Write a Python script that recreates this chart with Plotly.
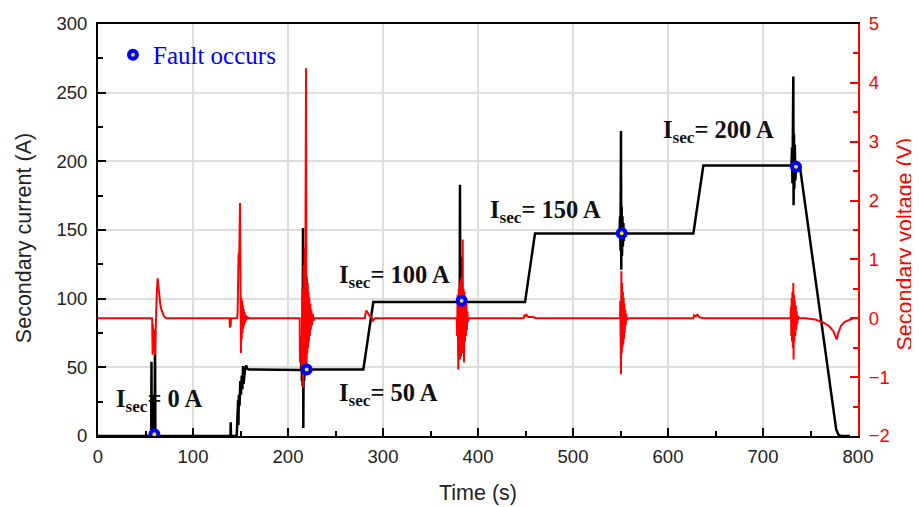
import plotly.graph_objects as go

# ---------------- data ----------------
# Secondary current (A) vs time (s)
t_current = [0, 56.0, 56.3, 56.6, 57.2, 57.6, 59.6, 60.0, 60.4, 139.4, 139.7, 140.0,
             146.0, 147.0, 147.5, 147.8, 148.3, 149.0, 149.8, 150.5, 151.3, 152.0, 152.7,
             153.2, 154.0, 154.7, 156.0, 157.0, 158.5, 213.5, 213.8, 214.2, 214.4, 214.6,
             215.0, 215.4, 215.8, 216.1, 216.5, 217.0, 217.5, 218.0, 218.5, 219.0, 219.7,
             220.5, 221.5, 222.5, 223.5, 225.0, 279.3, 289.8, 380.5, 380.8, 381.0, 381.3,
             381.6, 382.0, 382.3, 382.6, 383.0, 383.5, 384.0, 384.5, 385.5, 386.5, 449.5,
             460.0, 549.0, 549.5, 550.0, 550.5, 550.8, 551.2, 551.6, 552.0, 552.5, 553.0,
             553.5, 554.0, 555.0, 556.0, 626.7, 637.2, 730.0, 730.5, 731.0, 731.5, 731.9,
             732.2, 732.6, 733.0, 733.5, 734.0, 734.7, 735.5, 736.5, 737.5, 738.9, 777.0,
             779.3, 782.0, 791.6]
i_current = [0, 0, 54, 2, 30, 0, 0, 76, 0, 0, 10, 0,
             0, 14, 26, 8, 30, 22, 40, 30, 44, 34, 51,
             38, 46, 48, 51.5, 49, 48.5, 48.5, 48, 62, 70, 40,
             60, 36, 151.5, 5.8, 56, 40, 58, 44, 54, 46, 48.5,
             52, 45, 50, 47.5, 48.5, 48.5, 97.5, 97.5, 110, 183, 90,
             62, 112, 130.6, 88, 108, 92, 104, 95, 100, 97.5, 97.5,
             147.5, 147.5, 160, 135, 222, 121, 167, 131, 160, 138, 155,
             142, 151, 146, 147.5, 147.5, 197, 197, 210, 184, 225, 261.7,
             168, 220, 180, 212, 186, 196, 200, 193, 197, 196, 5,
             1, 0, 0]

# Secondary voltage (V) vs time (s)
t_voltage = [0, 57.0, 57.2, 57.5, 57.8, 58.2, 58.6, 59.0, 59.5, 60.0, 60.5, 61.2, 61.8,
             62.8, 63.5, 64.5, 65.5, 66.5, 68.0, 69.5, 71.0, 72.5,
             138.5, 138.8, 139.3, 139.6, 140.0, 146.5, 147.0, 148.0, 148.5, 149.0, 149.5,
             149.8, 150.2, 150.5, 150.9, 151.3, 151.7, 152.1, 152.5, 152.9, 153.3, 153.8,
             154.3, 154.8, 155.4, 156.0, 157.0, 158.0,
             212.3, 212.6, 213.0, 213.5, 214.0, 214.5, 215.0, 215.5, 216.0, 216.5, 217.0,
             217.5, 218.0, 218.5, 219.0, 219.3, 219.6, 220.0, 220.4, 220.8, 221.2, 221.6,
             222.0, 222.5, 223.0, 223.5, 224.0, 224.6, 225.2, 226.0, 227.0, 228.0,
             281.0, 281.5, 282.5, 284.0, 286.0, 288.0, 289.5, 291.6,
             377.6, 378.0, 378.5, 379.0, 379.3, 379.7, 380.2, 380.7, 381.2, 381.7, 382.2,
             382.7, 383.2, 383.9, 384.3, 384.8, 385.3, 385.8, 386.3, 386.8, 387.3, 387.8,
             388.3, 388.8, 389.4, 390.0,
             448.0, 449.0, 450.0, 451.0, 453.0, 458.0, 461.0,
             549.5, 549.8, 550.1, 550.5, 550.9, 551.3, 551.7, 552.1, 552.5, 552.9, 553.3,
             553.7, 554.1, 554.5, 555.0, 555.5, 556.0, 557.0, 558.0,
             626.7, 627.5, 629.0, 631.0, 633.0, 637.0,
             729.0, 729.4, 729.8, 730.2, 730.6, 731.0, 731.4, 731.9, 732.2, 732.6, 733.0,
             733.5, 734.0, 734.5, 735.0, 735.5, 736.0, 737.0, 738.0,
             745.0, 755.0, 763.5, 770.0, 774.0, 776.5, 777.6, 779.0, 782.0, 786.0, 790.0,
             795.0, 800.0]
v_voltage = [0, 0, -0.3, -0.62, -0.1, -0.55, -0.2, -0.5, -0.3, -0.62, -0.3, 0, 0.4,
             0.68, 0.55, 0.38, 0.25, 0.16, 0.08, 0.03, 0.01, 0,
             0, -0.16, -0.05, -0.14, 0, 0, 0.1, 1.1, 0.9, 1.4, 1.96,
             1.2, -0.3, -0.59, 0.35, -0.35, 0.3, -0.25, 0.22, -0.18, 0.16, -0.12,
             0.1, -0.08, 0.06, -0.04, 0.03, 0,
             0, -0.75, -0.3, -0.7, -0.4, -0.9, 0.5, -0.8, -1.18, 0.9, -0.6,
             1.2, -0.9, 2.0, 4.25, 0.3, -0.8, 0.7, -0.6, 0.6, -0.5, 0.45,
             -0.4, 0.35, -0.3, 0.25, -0.2, 0.15, -0.12, 0.08, -0.04, 0,
             0, 0.08, 0.13, 0.09, 0.04, 0.02, -0.04, 0,
             0, -0.3, 0.4, -0.5, -0.87, 0.5, -0.6, 0.6, -0.7, 0.66, -0.65,
             0.7, -0.6, 1.34, -0.5, 0.5, -0.75, 0.45, -0.4, 0.35, -0.3, 0.25,
             -0.2, 0.12, -0.06, 0,
             0, 0.06, 0.03, 0.06, 0.02, 0.02, 0,
             0, 0.3, -0.5, -0.95, 0.8, -0.6, 0.6, -0.5, 0.45, -0.45, 0.35,
             -0.35, 0.25, -0.25, 0.15, -0.12, 0.07, -0.03, 0,
             0, 0.05, 0.03, 0.06, 0.02, 0,
             0, 0.2, -0.3, 0.35, -0.4, 0.45, -0.5, 0.6, -0.7, 0.4, -0.4,
             0.3, -0.3, 0.22, -0.2, 0.12, -0.1, 0.04, 0,
             0, -0.02, -0.07, -0.14, -0.22, -0.31, -0.36, -0.26, -0.13, -0.06, -0.03,
             0, 0]

# Fault instants
t_fault = [59.3, 219.7, 382.8, 551.3, 734.7]
i_fault = [1.2, 48.5, 98.5, 147.6, 196]

# Level labels
label_text = ["0 A", "50 A", "100 A", "150 A", "200 A"]
label_t = [16.8, 252, 252, 410.9, 592.6]
label_i = [25.5, 30, 116.5, 163.4, 222]

x_ticks = [0, 100, 200, 300, 400, 500, 600, 700, 800]
y_ticks = [0, 50, 100, 150, 200, 250, 300]
y2_ticks = [-2, -1, 0, 1, 2, 3, 4, 5]

# ---------------- figure ----------------
SANS = "Liberation Sans, Arial, sans-serif"
SERIF = "Liberation Serif, Times New Roman, serif"

fig = go.Figure()
fig.add_trace(go.Scatter(x=t_current, y=i_current, mode="lines",
                         line=dict(color="#000000", width=2.5),
                         showlegend=False, yaxis="y"))
fig.add_trace(go.Scatter(x=t_voltage, y=v_voltage, mode="lines",
                         line=dict(color="#ff0000", width=2),
                         showlegend=False, yaxis="y2"))
fig.add_trace(go.Scatter(x=t_fault, y=i_fault, mode="markers", name="Fault occurs",
                         marker=dict(symbol="circle", size=8, color="#e8e000",
                                     line=dict(color="#0000ff", width=4)),
                         yaxis="y3"))

for txt, tx, ty in zip(label_text, label_t, label_i):
    fig.add_annotation(x=tx, y=ty, xref="x", yref="y", xanchor="left", yanchor="middle",
                       text="<b>I<sub>sec</sub>= " + txt + "</b>", showarrow=False,
                       font=dict(family=SERIF, size=24.5, color="#111111"))

# Y-axis titles (placed slightly below the axis middle, as in the source figure)
fig.add_annotation(x=-0.098, y=0.479, xref="paper", yref="paper", xanchor="center",
                   yanchor="middle", textangle=-90, showarrow=False,
                   text="Secondary current (A)",
                   font=dict(family=SANS, size=21.5, color="#222222"))
fig.add_annotation(x=1.0625, y=0.466, xref="paper", yref="paper", xanchor="center",
                   yanchor="middle", textangle=-90, showarrow=False,
                   text="Secondary voltage (V)",
                   font=dict(family=SANS, size=21.5, color="#ff0000"))

axis_common = dict(showline=True, linewidth=2, ticks="inside", ticklen=8, tickwidth=2,
                   tickfont=dict(family=SANS, size=18.5, color="#222222"),
                   zeroline=False, automargin=False)

# The page body adds an 8 px offset, so the figure is 8 px smaller than the window.
fig.update_layout(
    width=911, height=499,
    margin=dict(l=90, r=61, t=16, b=71, autoexpand=False),
    paper_bgcolor="white", plot_bgcolor="white",
    xaxis=dict(range=[0, 800], tickvals=x_ticks, linecolor="#000000", tickcolor="#000000",
               mirror=True, showgrid=True, gridcolor="#dddddd", gridwidth=1.5,
               ticklabelstandoff=3,
               minor=dict(dtick=50, ticks="inside", ticklen=5, tickwidth=2, tickcolor="#000000",
                          showgrid=False),
               title=dict(text="Time (s)", font=dict(family=SANS, size=21.5, color="#222222"),
                          standoff=19),
               **axis_common),
    yaxis=dict(range=[0, 300], tickvals=y_ticks, linecolor="#000000", tickcolor="#000000",
               showgrid=True, gridcolor="#dddddd", gridwidth=1.5,
               ticklabelstandoff=5,
               minor=dict(dtick=25, ticks="inside", ticklen=5, tickwidth=2, tickcolor="#000000",
                          showgrid=False),
               **axis_common),
    yaxis2=dict(range=[-2, 5], tickvals=y2_ticks, overlaying="y", side="right",
                showline=True, linewidth=2, linecolor="#ff0000", ticks="inside", ticklen=8,
                tickwidth=2, tickcolor="#ff0000", showgrid=False, zeroline=False,
                automargin=False, ticklabelstandoff=5,
                tickfont=dict(family=SANS, size=18.5, color="#ff0000"),
                minor=dict(dtick=0.5, ticks="inside", ticklen=5, tickwidth=2,
                           tickcolor="#ff0000", showgrid=False)),
    yaxis3=dict(range=[0, 300], overlaying="y", matches="y", visible=False,
                showticklabels=False, automargin=False),
    legend=dict(x=0.0197, y=0.925, xanchor="left", yanchor="middle",
                bgcolor="rgba(0,0,0,0)", borderwidth=0,
                font=dict(family=SERIF, size=25, color="#0000ff")),
    showlegend=True,
)

fig.write_html("out.html")
